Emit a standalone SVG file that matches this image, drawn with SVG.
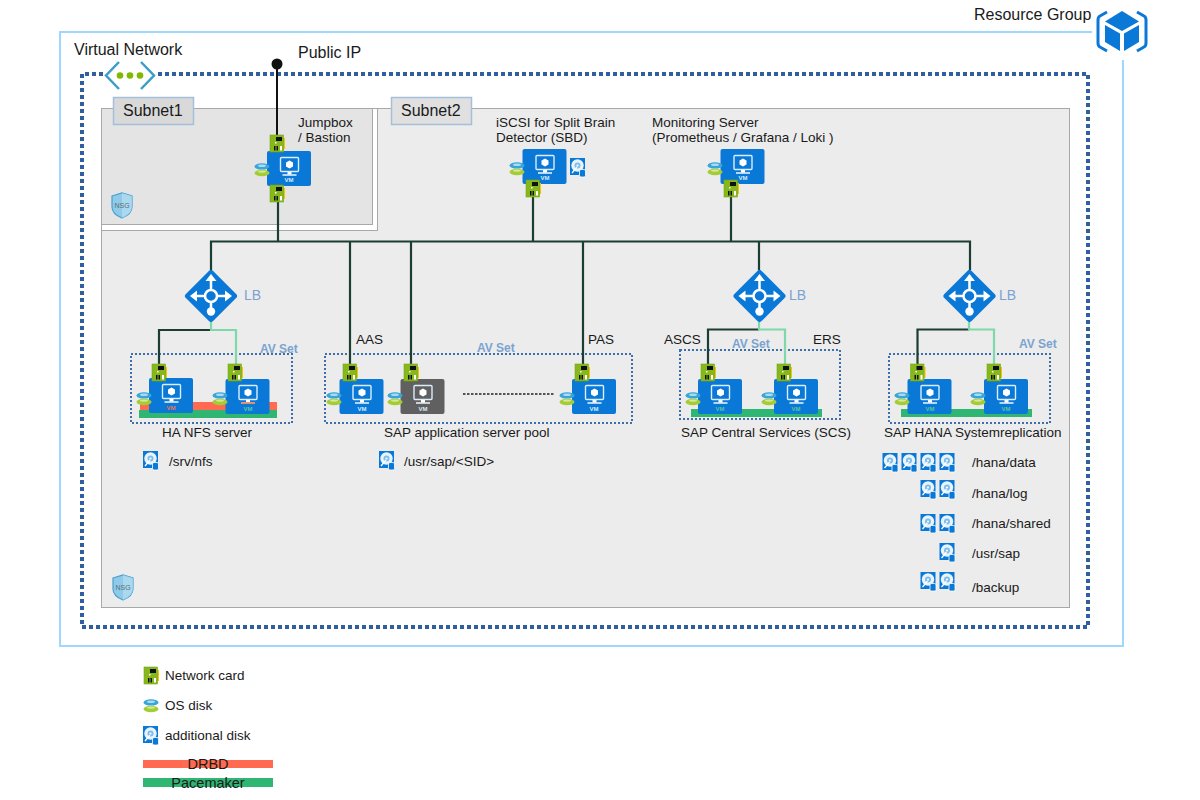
<svg xmlns="http://www.w3.org/2000/svg" width="1200" height="800" viewBox="0 0 1200 800">
<style>
text{font-family:"Liberation Sans",Arial,sans-serif;fill:#1a1a1a;font-size:13.5px}
.big{font-size:16px}
.sub{font-size:16px}
.lb{font-size:14px;fill:#7ba3d0}
.av{font-size:12px;font-weight:bold;fill:#7ba3d0}
.vmt{font-size:6px;font-weight:bold;text-anchor:middle;fill:#d6ecfb}
.o{fill:#f0724e}.g{fill:#55c79a}
.bus{fill:none;stroke:#1b3d33;stroke-width:2.2}
.lite{fill:none;stroke:#7fd8aa;stroke-width:2.2}
.avs{fill:none;stroke:#3f6fa8;stroke-width:2;stroke-dasharray:2 2}
.ctr{text-anchor:middle}
</style>
<defs>
<g id="vmbase">
<rect width="44" height="35" rx="2"/>
<rect x="13.500" y="6.500" width="18" height="14" rx="1" fill="none" stroke="#dcedfa" stroke-width="1.400"/>
<polygon points="22.500,9.500 26,11.500 26,15.500 22.500,17.500 19,15.500 19,11.500" fill="#fff"/>
<rect x="20.500" y="21" width="4" height="2.500" fill="#fff"/>
<rect x="15.500" y="23.300" width="14" height="1.400" fill="#fff"/>
</g>
<g id="nic">
<rect x="12" y="3" width="3" height="11" fill="#f0c30f"/>
<rect width="13.500" height="17" fill="#86b81c" stroke="#76a517" stroke-width=".6"/>
<rect x="6" y="2" width="6" height="4" fill="#111"/>
<rect x="5" y="7" width="1.500" height="1.500" fill="#fff"/>
<rect x="4" y="11" width="1.500" height="4.500" fill="#111"/>
<rect x="6.500" y="11" width="1.500" height="4.500" fill="#111"/>
<rect x="10" y="11" width="2" height="4.500" fill="#fff"/>
</g>
<g id="osd">
<ellipse cx="8" cy="10" rx="7.500" ry="3.300" fill="#a4cc36"/>
<ellipse cx="8" cy="8.600" rx="4" ry="1.200" fill="#d6ea8c"/>
<ellipse cx="8" cy="3.400" rx="7.500" ry="3.200" fill="#3aa5d8"/>
<ellipse cx="8" cy="2.800" rx="4" ry="1.200" fill="#a8dcf2"/>
</g>
<g id="disk">
<rect width="15" height="17" fill="#0a78d7"/>
<circle cx="7.500" cy="7.500" r="6.200" fill="#e8f4fc"/>
<circle cx="7.500" cy="7.500" r="3" fill="#7fbdea"/>
<circle cx="7.500" cy="7.500" r="1.100" fill="#fff"/>
<path d="M2,15 L7,9" stroke="#fff" stroke-width="1.300"/>
<rect x="9.500" y="11.500" width="6" height="7.500" rx="1.500" fill="#0a78d7" stroke="#fff" stroke-width=".8"/>
</g>
<g id="lbi">
<polygon points="0,-23 23,0 0,23 -23,0" fill="#0a78d7" stroke="#0a78d7" stroke-width="6" stroke-linejoin="round"/>
<path d="M0,-17V-6M-16,0H-6M16,0H6M0,6V12" stroke="#fff" stroke-width="2.500" fill="none"/>
<polygon points="0,-22 -5.500,-15 5.500,-15" fill="#fff"/>
<polygon points="-21,0 -14,-5.500 -14,5.500" fill="#fff"/>
<polygon points="21,0 14,-5.500 14,5.500" fill="#fff"/>
<circle r="6" fill="#0a78d7" stroke="#fff" stroke-width="2.500"/>
<circle cy="15.500" r="4.200" fill="#fff"/>
</g>
<g id="nsg">
<path d="M0,3 L10,0 L20,3 V14 Q20,21 10,25 Q0,21 0,14 Z" fill="#8fcbe8" stroke="#4a9fd0" stroke-width="1.200"/>
<path d="M10,0 L20,3 V14 Q20,21 10,25 Z" fill="#b5def2" opacity=".7"/>
<text x="10" y="15" class="ctr" style="font-size:7px;fill:#5c6b75">NSG</text>
</g>
</defs>

<g id="resource-group">
<path d="M1092,32H60V646H1123V60" fill="none" stroke="#9fd8ff" stroke-width="2"/>
<text x="974" y="20" class="big">Resource Group</text>
<g fill="#0a78d7">
<polygon points="1122,11 1139,21.500 1122,31 1105,21.500"/>
<polygon points="1105,25 1120,33.500 1120,51 1105,42"/>
<polygon points="1139,25 1124,33.500 1124,51 1139,42"/>
</g>
<path d="M1107,12L1100,16Q1098,17 1098,20V43Q1098,46 1100,47L1107,51M1137,12L1144,16Q1146,17 1146,20V43Q1146,46 1144,47L1137,51" fill="none" stroke="#0a78d7" stroke-width="3"/>
</g>

<g id="virtual-network">
<path d="M103,74H82V627H1088V74H157" fill="none" stroke="#2f5f9f" stroke-width="4" stroke-dasharray="4 3"/>
<text x="74" y="55" class="big">Virtual Network</text>
<path d="M119,62L106,75.500L119,89M141,62L154,75.500L141,89" fill="none" stroke="#3a9fc8" stroke-width="2.500"/>
<g fill="#7fba00"><circle cx="120" cy="75.500" r="3.300"/><circle cx="130" cy="75.500" r="3.300"/><circle cx="140" cy="75.500" r="3.300"/></g>
</g>

<g id="subnet2">
<rect x="101.500" y="108.500" width="968" height="499" fill="#ececec" stroke="#a8a8a8"/>
<rect x="391.500" y="97.500" width="80" height="27" fill="#e0e0e0" stroke="#a5bfd9" stroke-width="1.500"/>
<text x="401" y="116" class="sub">Subnet2</text>
<use href="#nsg" x="113" y="575"/>
</g>
<g id="subnet1">
<rect x="101.500" y="108.500" width="276" height="122" fill="#fff" stroke="#a8a8a8"/>
<rect x="101.500" y="108.500" width="271" height="116" fill="#e4e4e4" stroke="#a8a8a8"/>
<rect x="113.500" y="97.500" width="80" height="27" fill="#d9d9d9" stroke="#a5bfd9" stroke-width="1.500"/>
<text x="123" y="116" class="sub">Subnet1</text>
<use href="#nsg" x="112" y="193"/>
</g>

<g id="bars">
<rect x="140" y="402" width="137" height="8" fill="#ff6a50"/>
<rect x="139" y="410" width="138" height="8" fill="#2fb673"/>
<rect x="691" y="409" width="131" height="8" fill="#2fb673"/>
<rect x="901" y="409" width="131" height="8" fill="#2fb673"/>
</g>

<g id="av-sets">
<rect x="131" y="354" width="161" height="69" class="avs"/>
<rect x="325" y="354" width="307" height="69" class="avs"/>
<rect x="680" y="350" width="160" height="69" class="avs"/>
<rect x="889" y="354" width="161" height="69" class="avs"/>
<text x="260" y="353" class="av">AV Set</text>
<text x="477" y="352" class="av">AV Set</text>
<text x="732" y="348" class="av">AV Set</text>
<text x="1019" y="348" class="av">AV Set</text>
</g>

<g id="connectors">
<path d="M277,64V135" fill="none" stroke="#111" stroke-width="2"/>
<circle cx="277" cy="64" r="5.500" fill="#111"/>
<path class="bus" d="M211,270V241.500H970V270M278,201V241.500M350,241.500V365M411,241.500V365M533,197V241.500M583,241.500V365M731,197V241.500M759,241.500V270"/>
<path class="bus" d="M211,330H159V365"/>
<path class="lite" d="M211,322V330H236V365"/>
<path class="bus" d="M759,329.500H708V365"/>
<path class="lite" d="M759,322V329.500H785V365"/>
<path class="bus" d="M969,329.500H917.500V365"/>
<path class="lite" d="M969,322V329.500H994V365"/>
<path d="M463,394H555" fill="none" stroke="#222" stroke-width="1.300" stroke-dasharray="2.500 1.500"/>
<text x="298" y="58" class="big">Public IP</text>
</g>

<g id="lb-nfs"><use href="#lbi" x="211" y="296"/><text x="244" y="300" class="lb">LB</text></g>
<g id="lb-scs"><use href="#lbi" x="759.500" y="296"/><text x="789" y="300" class="lb">LB</text></g>
<g id="lb-hana"><use href="#lbi" x="969.500" y="296"/><text x="999" y="300" class="lb">LB</text></g>

<g id="vm-jumpbox">
<use href="#vmbase" x="267" y="151" fill="#0a78d7"/><text x="289" y="182" class="vmt">VM</text>
<use href="#nic" x="270" y="135"/><use href="#nic" x="270" y="185"/><use href="#osd" x="254" y="163"/>
<text x="298" y="127">Jumpbox</text><text x="298" y="142">/ Bastion</text>
</g>
<g id="vm-iscsi">
<use href="#vmbase" x="522.500" y="149" fill="#0a78d7"/><text x="545" y="180" class="vmt">VM</text>
<use href="#nic" x="526" y="180"/><use href="#osd" x="509" y="162"/><use href="#disk" x="570" y="158"/>
<text x="496" y="127">iSCSI for Split Brain</text><text x="496" y="142">Detector (SBD)</text>
</g>
<g id="vm-monitoring">
<use href="#vmbase" x="720.500" y="149" fill="#0a78d7"/><text x="743" y="180" class="vmt">VM</text>
<use href="#nic" x="724" y="180"/><use href="#osd" x="707" y="162"/>
<text x="652" y="127">Monitoring Server</text><text x="652" y="142">(Prometheus / Grafana / Loki )</text>
</g>

<g id="vm-nfs1">
<use href="#vmbase" x="149" y="378" fill="#0a78d7"/><text x="171" y="410" class="vmt o">VM</text>
<use href="#nic" x="152" y="364"/><use href="#osd" x="136" y="392"/>
</g>
<g id="vm-nfs2">
<use href="#vmbase" x="225.500" y="379" fill="#0a78d7"/><text x="248" y="411" class="vmt g">VM</text>
<rect x="241" y="402.300" width="14" height="1.400" fill="#f0724e"/>
<use href="#nic" x="228" y="364"/><use href="#osd" x="212" y="392"/>
<text x="162" y="437">HA NFS server</text>
<use href="#disk" x="143" y="451"/><text x="169" y="466">/srv/nfs</text>
</g>

<g id="vm-aas">
<use href="#vmbase" x="339.500" y="379" fill="#0a78d7"/><text x="362" y="411" class="vmt">VM</text>
<use href="#nic" x="343" y="364"/><use href="#osd" x="326" y="392"/>
<text x="356" y="344">AAS</text>
</g>
<g id="vm-app-gray">
<use href="#vmbase" x="400.500" y="379" fill="#606060"/><text x="423" y="411" class="vmt">VM</text>
<use href="#nic" x="404" y="364"/><use href="#osd" x="387" y="392"/>
</g>
<g id="vm-pas">
<use href="#vmbase" x="572" y="379" fill="#0a78d7"/><text x="594" y="411" class="vmt">VM</text>
<use href="#nic" x="575" y="364"/><use href="#osd" x="559" y="392"/>
<text x="588" y="344">PAS</text>
<text x="384" y="437">SAP application server pool</text>
<use href="#disk" x="379" y="451"/><text x="404" y="466">/usr/sap/&lt;SID&gt;</text>
</g>

<g id="vm-ascs">
<use href="#vmbase" x="698" y="379" fill="#0a78d7"/><text x="720" y="411" class="vmt g">VM</text>
<use href="#nic" x="701" y="364"/><use href="#osd" x="685" y="392"/>
<text x="664" y="344">ASCS</text>
</g>
<g id="vm-ers">
<use href="#vmbase" x="774" y="379" fill="#0a78d7"/><text x="796" y="411" class="vmt g">VM</text>
<use href="#nic" x="777" y="364"/><use href="#osd" x="761" y="392"/>
<text x="813" y="344">ERS</text>
<text x="681" y="437">SAP Central Services (SCS)</text>
</g>

<g id="vm-hana1">
<use href="#vmbase" x="907.500" y="379" fill="#0a78d7"/><text x="930" y="411" class="vmt g">VM</text>
<use href="#nic" x="910.500" y="364"/><use href="#osd" x="894" y="392"/>
</g>
<g id="vm-hana2">
<use href="#vmbase" x="984" y="379" fill="#0a78d7"/><text x="1006" y="411" class="vmt g">VM</text>
<use href="#nic" x="987" y="364"/><use href="#osd" x="970" y="392"/>
<text x="884" y="437">SAP HANA Systemreplication</text>
</g>

<g id="hana-disks">
<use href="#disk" x="882.500" y="453"/><use href="#disk" x="901.500" y="453"/><use href="#disk" x="920.500" y="453"/><use href="#disk" x="939.500" y="453"/>
<text x="972" y="467">/hana/data</text>
<use href="#disk" x="920.500" y="480"/><use href="#disk" x="939.500" y="480"/>
<text x="972" y="498">/hana/log</text>
<use href="#disk" x="920.500" y="514"/><use href="#disk" x="939.500" y="514"/>
<text x="972" y="528">/hana/shared</text>
<use href="#disk" x="939.500" y="543"/>
<text x="972" y="558">/usr/sap</text>
<use href="#disk" x="920.500" y="572"/><use href="#disk" x="939.500" y="572"/>
<text x="972" y="592">/backup</text>
</g>

<g id="legend">
<use href="#nic" x="144" y="667"/><text x="165" y="680">Network card</text>
<use href="#osd" x="143" y="699"/><text x="165" y="710">OS disk</text>
<use href="#disk" x="143" y="726"/><text x="165" y="740">additional disk</text>
<rect x="143" y="760" width="130" height="8" fill="#ff6a50"/>
<text x="208" y="769" class="ctr" style="font-size:14.500px">DRBD</text>
<rect x="143" y="778" width="130" height="9" fill="#2fb673"/>
<text x="208" y="788" class="ctr" style="font-size:14.500px">Pacemaker</text>
</g>
</svg>
